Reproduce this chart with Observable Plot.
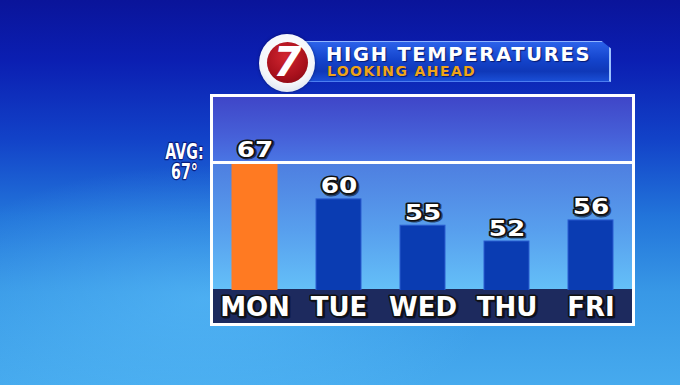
<!DOCTYPE html>
<html><head><meta charset="utf-8">
<script src="https://cdn.jsdelivr.net/npm/d3@7"></script>
<script src="https://cdn.jsdelivr.net/npm/@observablehq/plot@0.6"></script>
<style>
html,body{margin:0;padding:0;width:680px;height:385px;overflow:hidden;background:#0a169a;}
#stage{position:relative;width:680px;height:385px;overflow:hidden;
 background: radial-gradient(ellipse 60% 50% at 30% 78%, rgba(100,200,255,0.45), rgba(100,200,255,0) 70%),
 linear-gradient(180deg,#0a149a 0%,#0b1fb2 16%,#1242c8 36%,#2274da 56%,#3898e6 76%,#46aaee 100%);}
.abs{position:absolute;}
#frameBox{left:210px;top:94px;width:425px;height:232px;border:3px solid #fff;box-sizing:border-box;}
#upper{left:213px;top:97px;width:419px;height:65px;background:linear-gradient(180deg,#3f46c8 0%,#4660d8 60%,#4a76e4 100%);}
#lower{left:213px;top:162px;width:419px;height:128px;background:linear-gradient(180deg,#4e7ee0 0%,#58a0ee 55%,#64c0f8 100%);}
#band{left:213px;top:289px;width:419px;height:34px;background:#1d2a5e;}
#banner{left:300px;top:41px;width:311px;height:41px;box-sizing:border-box;
 background:linear-gradient(180deg,#2c62ea 0%,#1444cc 45%,#0f38b8 75%,#1a4ed6 100%);
 border-top:1px solid #8fb4ff;border-right:2px solid #9cc2ff;border-bottom:1px solid #4c7ef0;
 clip-path:polygon(0 0,97% 0,100% 18%,100% 100%,0 100%);}
#t1{left:326px;top:47px;font:bold 19.5px "DejaVu Sans",sans-serif;line-height:16px;letter-spacing:1.7px;color:#fff;white-space:nowrap;
 text-shadow:1px 1px 1px #061a70;}
#t2{left:327px;top:65px;font:bold 14px "DejaVu Sans",sans-serif;line-height:12px;letter-spacing:1.4px;color:#f0a418;white-space:nowrap;
 text-shadow:1px 1px 1px #061a70;}
#logoOuter{left:259px;top:34px;width:56px;height:58px;border-radius:50%;
 background:radial-gradient(circle at 50% 40%,#ffffff 0%,#f4f6fa 60%,#c9d4e6 100%);box-shadow:0 0 3px rgba(0,0,40,0.5);}
#logoRed{left:267px;top:42px;width:41px;height:41px;border-radius:50%;
 background:radial-gradient(circle at 45% 35%,#d12630 0%,#a8101c 60%,#7a0812 100%);}
#seven{left:267px;top:38px;width:41px;text-align:center;font:italic bold 40px "DejaVu Sans",sans-serif;color:#fff;line-height:48px;}
#chart{left:0;top:0;}
</style></head>
<body>
<div id="stage">
  <div class="abs" id="frameBox"></div>
  <div class="abs" id="upper"></div>
  <div class="abs" id="lower"></div>
  <div class="abs" id="band"></div>
  <div class="abs" id="banner"></div>
  <div class="abs" id="t1">HIGH TEMPERATURES</div>
  <div class="abs" id="t2">LOOKING AHEAD</div>
  <div class="abs" id="logoOuter"></div>
  <div class="abs" id="logoRed"></div>
  <div class="abs" id="seven">7</div>
  <div class="abs" id="chart"></div>
</div>
<script>
const days = ["MON", "TUE", "WED", "THU", "FRI"];
const highs = [67, 60, 55, 52, 56];
const avgHigh = 67;
const highlightDay = "MON";

const data = days.map((day, i) => ({day, high: highs[i]}));
const orange = "#ff7a22", blue = "#0a3cb2";
const bold = {fontFamily: "DejaVu Sans, sans-serif", fontWeight: "bold"};

const plot = Plot.plot({
  width: 680,
  height: 385,
  marginLeft: 212,
  marginRight: 47,
  marginTop: 97,
  marginBottom: 95,
  style: {background: "transparent", overflow: "visible"},
  x: {domain: days, range: [191, 655], padding: 0.46, axis: null},
  y: {domain: [42.7, 67], range: [290, 162], axis: null},
  marks: [
    Plot.barY(data, {
      x: "day", y: "high", clip: true,
      fill: d => d.day === highlightDay ? orange : blue,
      stroke: d => d.day === highlightDay ? orange : "#2a5cd0",
      strokeWidth: 1
    }),
    Plot.ruleY([avgHigh], {stroke: "#fff", strokeWidth: 3}),
    // value label shadows
    Plot.text(data, {x: "day", y: "high", text: d => String(d.high), dy: -4.5, dx: 1.5, lineAnchor: "bottom",
      fill: "#000", stroke: "#000", strokeWidth: 3, fontSize: 21, ...bold,
      fillOpacity: 0.55, strokeOpacity: 0.55}),
    Plot.text(data, {x: "day", y: "high", text: d => String(d.high), dy: -6, lineAnchor: "bottom",
      fill: "#fff", stroke: "#111", strokeWidth: 3, fontSize: 21, ...bold}),
    // day labels
    Plot.text(data, {x: "day", text: "day", frameAnchor: "bottom", dy: 18.5, dx: 1.5, lineAnchor: "middle",
      fill: "#000", stroke: "#000", strokeWidth: 3, fontSize: 26, ...bold, fillOpacity: 0.55, strokeOpacity: 0.55}),
    Plot.text(data, {x: "day", text: "day", frameAnchor: "bottom", dy: 17, lineAnchor: "middle",
      fill: "#fff", stroke: "#111", strokeWidth: 3, fontSize: 26, ...bold}),
    // AVG label
    Plot.text([avgHigh], {y: d => d, text: d => `AVG:\n${d}°`, frameAnchor: "left", dx: -28, dy: 0,
      textAnchor: "middle", lineAnchor: "middle", lineHeight: 0.95,
      fill: "#fff", stroke: "#0a1e80", strokeWidth: 2.5, fontSize: 21.5, ...bold})
  ]
});

// widen the numerals and condense the AVG label, as in the broadcast graphic
d3.select(plot).selectAll("text").each(function() {
  const t = this.textContent;
  const tr = this.getAttribute("transform") || "";
  if (/^\d+$/.test(t)) this.setAttribute("transform", tr + " scale(1.25,1)");
  else if (t.startsWith("AVG")) this.setAttribute("transform", tr + " scale(0.66,1)");
});
document.getElementById("chart").appendChild(plot);
</script>
</body></html>
